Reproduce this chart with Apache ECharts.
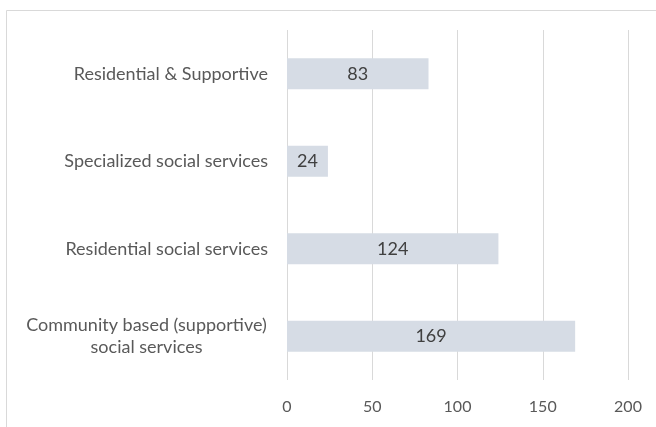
<!DOCTYPE html>
<html>
<head>
<meta charset="utf-8">
<script src="https://cdn.jsdelivr.net/npm/echarts@6/dist/echarts.min.js"></script>
<style>
  html, body { margin: 0; padding: 0; background: #ffffff; }
  #chart { width: 656px; height: 427px; }
</style>
</head>
<body>
<div id="chart"></div>
<script>
// Categories listed bottom to top (category axis runs upward)
const categories = [
  'Community based (supportive)\nsocial services',
  'Residential social services',
  'Specialized social services',
  'Residential & Supportive'
];
const values = [169, 124, 24, 83];
const xTicks = [0, 50, 100, 150, 200];

const FONT = 'Lato, "Open Sans", sans-serif';
const CAT_SIZE = 18;
const TICK_SIZE = 16;

// Width of the widest line, so two-line labels can be centred on it
const ctx = document.createElement('canvas').getContext('2d');
ctx.font = CAT_SIZE + 'px ' + FONT;
function lineWidth(s) { return Math.ceil(ctx.measureText(s).width) + 2; }

const chart = echarts.init(document.getElementById('chart'), null, { renderer: 'canvas' });

chart.setOption({
  backgroundColor: '#ffffff',
  animation: false,
  graphic: [{
    type: 'rect',
    shape: { x: 6.5, y: 10.5, width: 800, height: 600 },
    style: { fill: 'none', stroke: '#d9d9d9', lineWidth: 1 },
    silent: true
  }],
  grid: { left: 287, right: 28, top: 30, bottom: 47 },
  xAxis: {
    type: 'value',
    min: xTicks[0],
    max: xTicks[xTicks.length - 1],
    interval: xTicks[1] - xTicks[0],
    axisLine: { show: false },
    axisTick: { show: false },
    splitLine: { show: true, lineStyle: { color: '#d9d9d9', width: 1 } },
    axisLabel: { color: '#595959', fontFamily: FONT, fontSize: TICK_SIZE, margin: 19 }
  },
  yAxis: {
    type: 'category',
    data: categories,
    axisLine: { show: false },
    axisTick: { show: false },
    axisLabel: {
      color: '#595959',
      fontFamily: FONT,
      fontSize: CAT_SIZE,
      lineHeight: 22,
      margin: 19,
      formatter: function (v) {
        const lines = v.split('\n');
        if (lines.length === 1) return v;
        return lines.map(l => '{c|' + l + '}').join('\n');
      },
      rich: {
        c: {
          width: lineWidth('Community based (supportive)'),
          align: 'center',
          color: '#595959',
          fontFamily: FONT,
          fontSize: CAT_SIZE,
          lineHeight: 22
        }
      }
    }
  },
  series: [{
    type: 'bar',
    data: values,
    barWidth: 31,
    itemStyle: { color: '#d6dce5' },
    label: {
      show: true,
      position: 'inside',
      color: '#404040',
      fontFamily: FONT,
      fontSize: 18
    }
  }]
});
</script>
</body>
</html>
